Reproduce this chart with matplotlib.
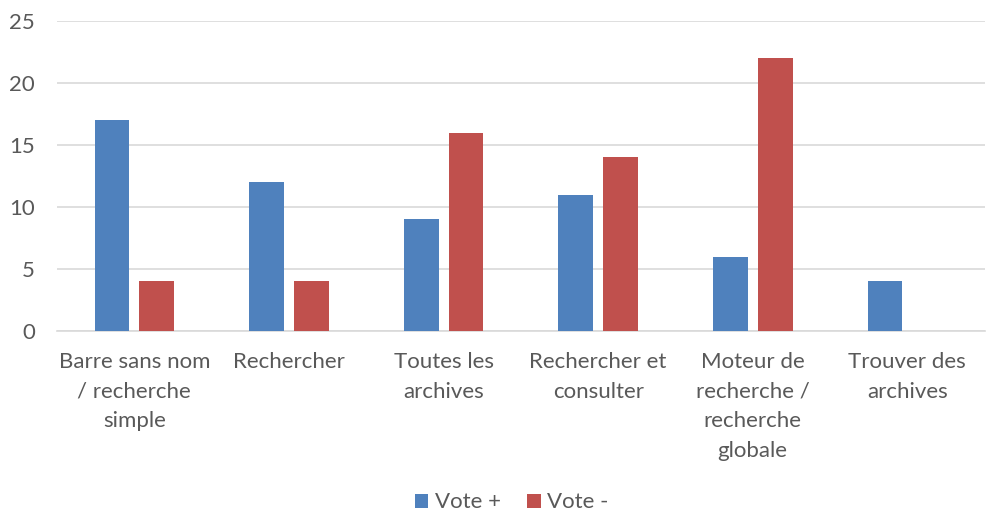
import matplotlib
matplotlib.use("Agg")
import matplotlib.pyplot as plt
import numpy as np

categories = ["Barre sans nom\n/ recherche\nsimple", "Rechercher", "Toutes les\narchives",
              "Rechercher et\nconsulter", "Moteur de\nrecherche /\nrecherche\nglobale",
              "Trouver des\narchives"]
vote_plus = [17, 12, 9, 11, 6, 4]
vote_minus = [4, 4, 16, 14, 22, 0]
series_names = ["Vote +", "Vote -"]
colors = ["#4F81BD", "#C0504D"]

plt.rcParams['font.family'] = ['Lato', 'DejaVu Sans']
text_color = "#595959"

fig = plt.figure(figsize=(9.9, 5.11), dpi=100)
ax = fig.add_axes([0.0576, 0.352, 0.937, 0.607])

x = np.arange(len(categories))
w = 0.225
off = 0.145
ax.bar(x - off, vote_plus, w, color=colors[0], label=series_names[0], zorder=3)
ax.bar(x + off, vote_minus, w, color=colors[1], label=series_names[1], zorder=3)

ax.set_xlim(-0.5, len(categories) - 0.5)
ax.set_ylim(0, 25)
ax.set_yticks([0, 5, 10, 15, 20, 25])
ax.yaxis.grid(True, color="#D9D9D9", linewidth=1.2, zorder=0)
for s in ["top", "right", "left"]:
    ax.spines[s].set_visible(False)
ax.spines["bottom"].set_color("#D9D9D9")
ax.spines["bottom"].set_linewidth(1.2)
ax.set_xticks(x)
ax.set_xticklabels(categories, fontsize=16, color=text_color, linespacing=1.6, va="top")
ax.tick_params(axis="both", length=0, colors=text_color, labelsize=16)
ax.tick_params(axis="x", pad=15)
ax.tick_params(axis="y", pad=16)

fig.legend(loc="lower center", bbox_to_anchor=(0.517, -0.042), ncol=2, frameon=False,
           fontsize=16, labelcolor=text_color, handlelength=0.6, handleheight=0.6,
           handletextpad=0.3, columnspacing=1.2)

fig.savefig("out.png", dpi=100)
